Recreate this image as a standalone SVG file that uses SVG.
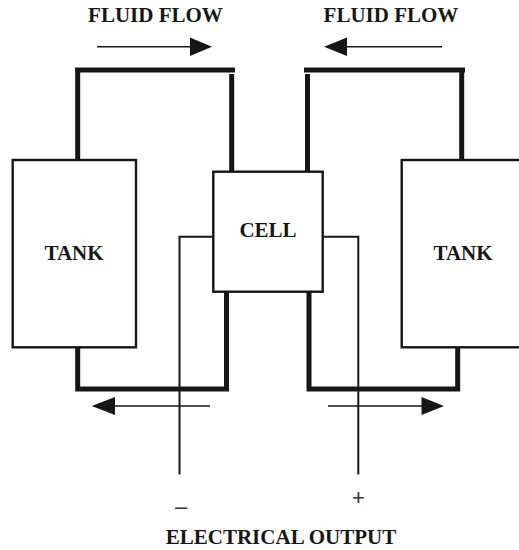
<svg xmlns="http://www.w3.org/2000/svg" width="519" height="550" viewBox="0 0 519 550">
<style>
.box{fill:#fff;stroke:#161616;stroke-width:2.4}
.pipe{fill:none;stroke:#161616;stroke-width:5;stroke-linejoin:miter;stroke-linecap:butt}
.wire{fill:none;stroke:#161616;stroke-width:2}
.flow{fill:none;stroke:#161616;stroke-width:1.4}
.head{fill:#161616}
.lbl{font-family:"Liberation Serif","Times New Roman",serif;font-weight:bold;font-size:21px;fill:#161616;text-anchor:middle}
.sign{font-family:"Liberation Sans",Arial,sans-serif;font-size:22px;fill:#333;text-anchor:middle}
</style>
<g id="connectors">
<path class="pipe" d="M77.7,160 V70 M75,70 H235 M231.7,74 V171"/>
<path class="pipe" d="M461.7,160 V70 M304,70 H465 M307.5,74 V171"/>
<path class="pipe" d="M77.7,347 V389 H226.5 V292"/>
<path class="pipe" d="M309,292 V389 H457.7 V347"/>
<path class="wire" d="M213.3,236.7 H179.5 V474.5"/>
<path class="wire" d="M322.7,236.7 H358.3 V474.5"/>
</g>
<g id="flow-arrows">
<line class="flow" x1="97" y1="46.7" x2="192" y2="46.7"/>
<polygon class="head" points="212,46.7 190,37.5 190,55.9"/>
<line class="flow" x1="345" y1="46.7" x2="442" y2="46.7"/>
<polygon class="head" points="324,46.7 347,37.5 347,55.9"/>
<line class="flow" x1="113" y1="406" x2="210" y2="406"/>
<polygon class="head" points="91.7,406 115,397 115,415"/>
<line class="flow" x1="328" y1="406" x2="423" y2="406"/>
<polygon class="head" points="444,406 421.5,397 421.5,415"/>
</g>
<g id="tank-left">
<rect class="box" x="12.7" y="160" width="123.3" height="187.3"/>
<text class="lbl" x="74" y="260">TANK</text>
</g>
<g id="cell">
<rect class="box" x="213.3" y="171.7" width="109.4" height="120"/>
<text class="lbl" x="268" y="237">CELL</text>
</g>
<g id="tank-right">
<rect class="box" x="401.7" y="160" width="130" height="187.3"/>
<text class="lbl" x="463" y="260">TANK</text>
</g>
<g id="labels">
<text class="lbl" x="155.5" y="22">FLUID FLOW</text>
<text class="lbl" x="391" y="22">FLUID FLOW</text>
<text class="sign" x="181" y="514">–</text>
<text class="sign" x="358.5" y="505">+</text>
<text class="lbl" x="281" y="544">ELECTRICAL OUTPUT</text>
</g>
</svg>
